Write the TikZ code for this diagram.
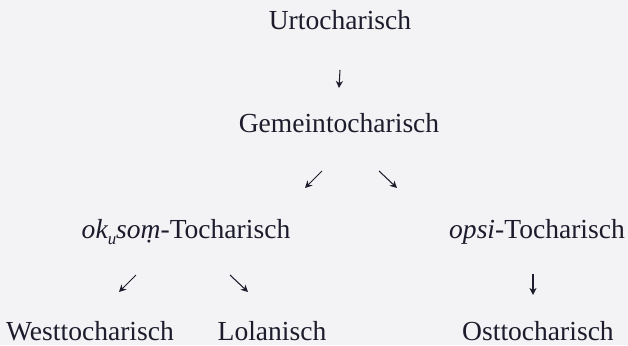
\documentclass[tikz,border=0pt]{standalone}
\usepackage{fontspec}
\setmainfont{Liberation Serif}
\usepackage{xcolor}
\usepackage{tikz}
\usetikzlibrary{arrows.meta}
\definecolor{ScanPaper}{RGB}{243,243,245}
\definecolor{ScanInk}{RGB}{28,28,44}

\begin{document}
\begin{tikzpicture}[
          lang/.style={inner sep=0pt, anchor=base, text=ScanInk,
                       font=\fontsize{19.6pt}{23pt}\selectfont},
          arr/.style={-{Stealth[length=5pt, width=5pt, inset=1.5pt]}, line width=0.75pt, ScanInk}
        ]
        \fill[ScanPaper] (0,0) rectangle (15.7,8.625);
        \useasboundingbox (0,0) rectangle (15.7,8.625);

        \node[lang] (urt)  at (8.5, 7.875)   {Urtocharisch};
        \node[lang] (gem)  at (8.475, 5.3)   {Gemeintocharisch};
        \node[lang] (oks)  at (4.65, 2.675)
              {\textit{ok\raisebox{-0.55ex}{\fontsize{12pt}{12pt}\selectfont u}so\d{m}}-Tocharisch};
        \node[lang] (ops)  at (13.425, 2.675) {\textit{opsi}-Tocharisch};

        % third row
        \node[lang] (west) at (2.25, 0.125)  {Westtocharisch};
        \node[lang] (lol)  at (6.8, 0.125)   {Lolanisch};
        \node[lang] (ost)  at (13.45, 0.125) {Osttocharisch};

        \draw[arr] ([yshift=-1cm]urt.base) -- ([yshift=1.125cm]gem.base);
        \draw[arr] ([shift={(-0.425,-0.95)}]gem.base) -- ([shift={(2.975,1.25)}]oks.base);
        \draw[arr] ([shift={(1.0,-0.95)}]gem.base) -- ([shift={(-3.5,1.25)}]ops.base);
        \draw[arr] ([shift={(-1.25,-0.925)}]oks.base) -- ([shift={(0.725,1.2)}]west.base);
        \draw[arr] ([shift={(1.1,-0.925)}]oks.base) -- ([shift={(-0.6,1.2)}]lol.base);
        \draw[arr] ([shift={(-0.1,-0.9)}]ops.base) -- ([shift={(-0.125,1.125)}]ost.base);
      \end{tikzpicture}
\end{document}
